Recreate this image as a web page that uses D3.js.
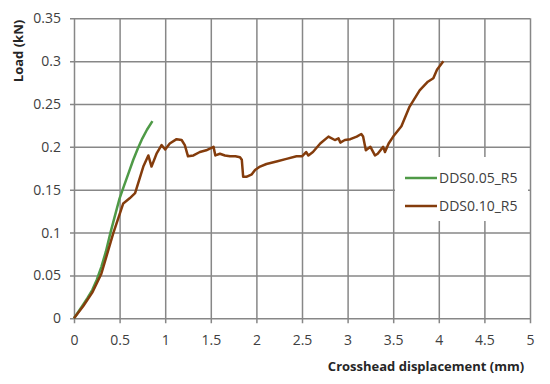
<!DOCTYPE html>
<html>
<head>
<meta charset="utf-8">
<script src="https://cdn.jsdelivr.net/npm/d3@7"></script>
<style>
body { margin: 0; background: #fff; }
svg text { font-family: "Open Sans", sans-serif; fill: #404040; }
</style>
</head>
<body>
<svg id="chart" width="550" height="384"></svg>
<script>
// values
var xTicks = [0, 0.5, 1, 1.5, 2, 2.5, 3, 3.5, 4, 4.5, 5];
var yTicks = [0, 0.05, 0.1, 0.15, 0.2, 0.25, 0.3, 0.35];
var seriesNames = ["DDS0.05_R5", "DDS0.10_R5"];

var greenX = [0, 0.05, 0.1, 0.15, 0.2, 0.25, 0.3, 0.35, 0.4, 0.45, 0.5, 0.55, 0.6, 0.65, 0.7, 0.75, 0.8, 0.86];
var greenY = [0, 0.008, 0.016, 0.024, 0.033, 0.045, 0.06, 0.078, 0.1, 0.12, 0.14, 0.155, 0.17, 0.185, 0.198, 0.21, 0.22, 0.23];

var brownX = [0, 0.1, 0.2, 0.3, 0.43, 0.54, 0.61, 0.67, 0.76, 0.815, 0.85, 0.905, 0.96, 1.0, 1.05, 1.125, 1.18, 1.215, 1.25, 1.31, 1.38, 1.45, 1.53, 1.55, 1.6, 1.655, 1.71, 1.77, 1.82, 1.84, 1.855, 1.89, 1.95, 1.985, 2.04, 2.11, 2.22, 2.33, 2.44, 2.5, 2.545, 2.57, 2.62, 2.7, 2.79, 2.86, 2.9, 2.92, 2.97, 3.03, 3.1, 3.15, 3.17, 3.2, 3.25, 3.3, 3.33, 3.39, 3.41, 3.45, 3.5, 3.59, 3.68, 3.79, 3.88, 3.94, 3.98, 4.05];
var brownY = [0, 0.014, 0.03, 0.052, 0.099, 0.134, 0.14, 0.146, 0.177, 0.19, 0.177, 0.192, 0.202, 0.197, 0.204, 0.209, 0.208, 0.202, 0.189, 0.19, 0.194, 0.196, 0.2, 0.19, 0.192, 0.19, 0.189, 0.189, 0.188, 0.185, 0.165, 0.165, 0.168, 0.173, 0.177, 0.18, 0.183, 0.186, 0.189, 0.189, 0.194, 0.19, 0.194, 0.204, 0.212, 0.208, 0.21, 0.205, 0.208, 0.209, 0.212, 0.215, 0.212, 0.196, 0.2, 0.19, 0.192, 0.2, 0.194, 0.204, 0.212, 0.224, 0.247, 0.266, 0.276, 0.28, 0.29, 0.3];

var colors = ["#4f9a47", "#843c0c"];

var svg = d3.select("#chart"),
    MARGINS = { top: 18.3, right: 20, bottom: 65.7, left: 74 },
    WIDTH = 550, HEIGHT = 384;

var xScale = d3.scaleLinear()
    .domain([0, 5])
    .range([MARGINS.left, 530]);

var yScale = d3.scaleLinear()
    .domain([0, 0.35])
    .range([HEIGHT - MARGINS.bottom, MARGINS.top]);

var fmt = function (d) { return d3.format("")(+d.toFixed(2)); };

// vertical grid + ticks
var xAxis = d3.axisBottom(xScale)
    .tickValues(xTicks)
    .tickSize(-(yScale(0) - yScale(0.35)) - 5)
    .tickPadding(12)
    .tickFormat(fmt);

svg.append("g")
    .attr("transform", "translate(0," + (yScale(0) + 5) + ")")
    .call(xAxis)
    .call(function (g) { g.select(".domain").remove(); })
    .call(function (g) {
        g.selectAll("line").attr("stroke", "#878787").attr("stroke-width", 1.5);
        g.selectAll("text").style("font-size", "14px").attr("fill", "#404040");
    });

var yAxis = d3.axisLeft(yScale)
    .tickValues(yTicks)
    .tickSize(-(530 - MARGINS.left) - 4)
    .tickPadding(9)
    .tickFormat(fmt);

svg.append("g")
    .attr("transform", "translate(" + (MARGINS.left - 4) + ",0)")
    .call(yAxis)
    .call(function (g) { g.select(".domain").remove(); })
    .call(function (g) {
        g.selectAll("line").attr("stroke", "#878787").attr("stroke-width", 1.5);
        g.selectAll("text").style("font-size", "14px").attr("fill", "#404040");
    });

// axis titles
svg.append("text")
    .attr("x", 426)
    .attr("y", 371)
    .style("text-anchor", "middle")
    .style("font-size", "13px")
    .style("font-weight", "bold")
    .style("fill", "#262626")
    .text("Crosshead displacement (mm)");

svg.append("text")
    .attr("transform", "rotate(-90)")
    .attr("x", -51)
    .attr("y", 23)
    .style("text-anchor", "middle")
    .style("font-size", "13px")
    .style("font-weight", "bold")
    .style("fill", "#262626")
    .text("Load (kN)");

var lineGen = d3.line()
    .x(function (d) { return xScale(d[0]); })
    .y(function (d) { return yScale(d[1]); });

var greenData = greenX.map(function (x, i) { return [x, greenY[i]]; });
var brownData = brownX.map(function (x, i) { return [x, brownY[i]]; });

svg.append("path")
    .attr("d", lineGen(greenData))
    .attr("stroke", colors[0])
    .attr("stroke-width", 2.5)
    .attr("stroke-linejoin", "round")
    .attr("fill", "none");

svg.append("path")
    .attr("d", lineGen(brownData))
    .attr("stroke", colors[1])
    .attr("stroke-width", 2.5)
    .attr("stroke-linejoin", "round")
    .attr("fill", "none");

// legend
var legend = svg.append("g");
legend.append("rect")
    .attr("x", 395).attr("y", 157)
    .attr("width", 133).attr("height", 64)
    .attr("fill", "#fff");

seriesNames.forEach(function (name, i) {
    var ly = 178 + i * 28;
    legend.append("line")
        .attr("x1", 405).attr("x2", 437)
        .attr("y1", ly).attr("y2", ly)
        .attr("stroke", colors[i])
        .attr("stroke-width", 2.5);
    legend.append("text")
        .attr("x", 439)
        .attr("y", ly + 5)
        .style("font-size", "14px")
        .text(name);
});
</script>
</body>
</html>
